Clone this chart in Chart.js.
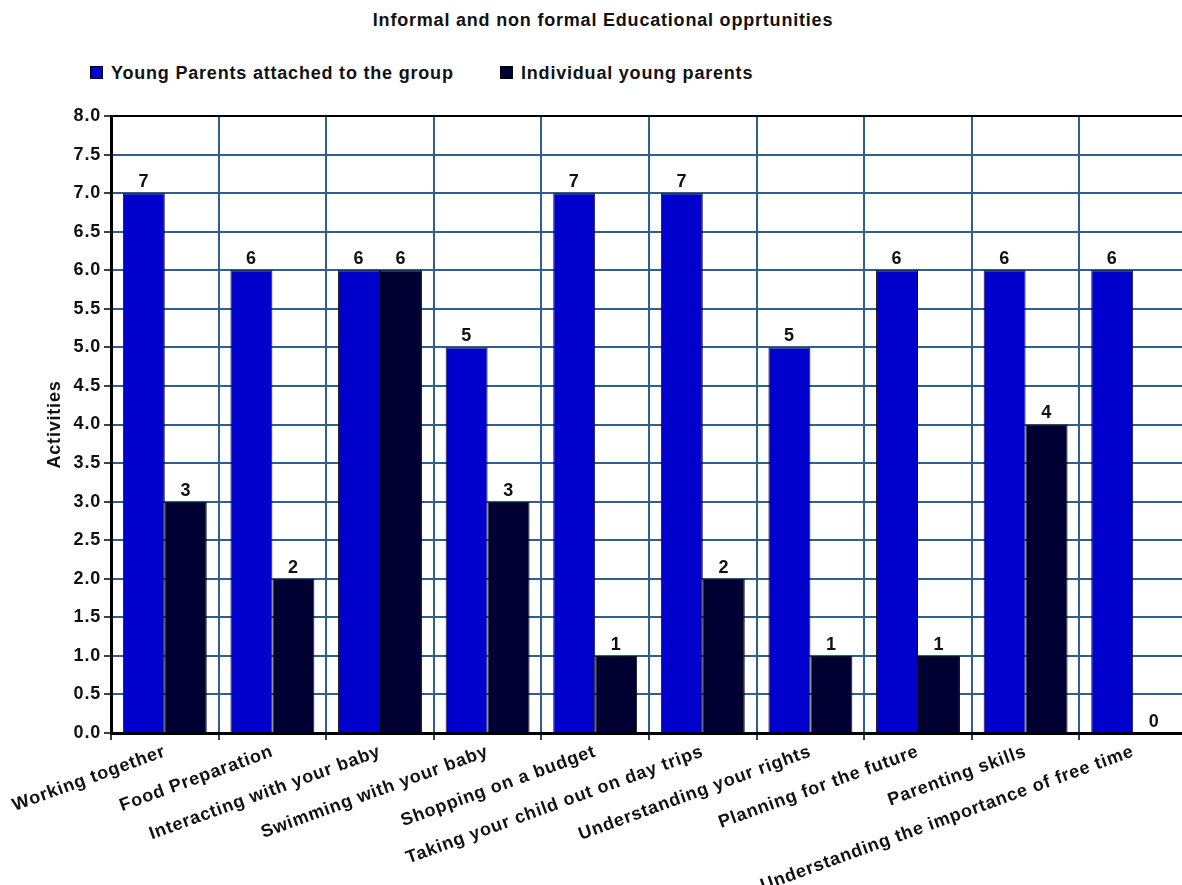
<!DOCTYPE html>
<html>
<head>
<meta charset="utf-8">
<title>Informal and non formal Educational opprtunities</title>
<script src="https://cdn.jsdelivr.net/npm/chart.js@4/dist/chart.umd.min.js"></script>
<style>
  html, body { margin: 0; padding: 0; background: #fff; overflow: hidden; }
  #wrap { position: relative; width: 1182px; height: 885px; overflow: hidden; font-family: "Liberation Sans", Arial, sans-serif; color: #111; letter-spacing: 0.8px; }
  #title { position: absolute; left: 24px; top: 10px; width: 1158px; text-align: center; font-weight: bold; font-size: 18px; }
  .leg { position: absolute; top: 63px; font-weight: bold; font-size: 18px; line-height: 20px; }
  .leg i { display: inline-block; width: 11px; height: 11px; border: 1px solid #000; margin-right: 8px; vertical-align: 0px; }
  #chartBox { position: absolute; left: 0; top: 0; width: 1200px; height: 885px; }
</style>
</head>
<body>
<div id="wrap">
  <div id="title">Informal and non formal Educational opprtunities</div>
  <div class="leg" style="left:90px"><i style="background:#0000cc"></i>Young Parents attached to the group</div>
  <div class="leg" style="left:500px"><i style="background:#000033"></i>Individual young parents</div>
  <div id="chartBox"><canvas id="chart" width="1200" height="885"></canvas></div>
</div>
<script>
const categories = [
  'Working together',
  'Food Preparation',
  'Interacting with your baby',
  'Swimming with your baby',
  'Shopping on a budget',
  'Taking your child out on day trips',
  'Understanding your rights',
  'Planning for the future',
  'Parenting skills',
  'Understanding the importance of free time'
]
const groupParents = [7, 6, 6, 5, 7, 7, 5, 6, 6, 6]
const individualParents = [3, 2, 6, 3, 1, 2, 1, 1, 4, 0]
const yTicks = ['0.0', '0.5', '1.0', '1.5', '2.0', '2.5', '3.0', '3.5', '4.0', '4.5', '5.0', '5.5', '6.0', '6.5', '7.0', '7.5', '8.0']

const FONT = '"Liberation Sans", Arial, sans-serif'
const GRID_BLUE = '#2f5f8f'

// slightly looser lettering for all canvas text
const spacing = {
  id: 'spacing',
  beforeUpdate(chart) { chart.ctx.letterSpacing = '0.8px' },
  beforeDraw(chart) { chart.ctx.letterSpacing = '0.8px' }
}

// value written above each bar
const barValues = {
  id: 'barValues',
  afterDatasetsDraw(chart) {
    const ctx = chart.ctx
    ctx.save()
    ctx.font = 'bold 18px ' + FONT
    ctx.fillStyle = '#111'
    ctx.textAlign = 'center'
    ctx.textBaseline = 'bottom'
    chart.data.datasets.forEach((ds, i) => {
      chart.getDatasetMeta(i).data.forEach((bar, j) => {
        ctx.fillText(String(ds.data[j]), bar.x, bar.y - 2)
      })
    })
    ctx.restore()
  }
}

const ctx = document.getElementById('chart').getContext('2d')
const chart = new Chart(ctx, {
  type: 'bar',
  data: {
    labels: categories,
    datasets: [{
      label: 'Young Parents attached to the group',
      data: groupParents,
      backgroundColor: '#0000cc',
      borderColor: '#111',
      borderWidth: 1,
      categoryPercentage: 0.78,
      barPercentage: 1.0
    }, {
      label: 'Individual young parents',
      data: individualParents,
      backgroundColor: '#000033',
      borderColor: '#111',
      borderWidth: 1,
      categoryPercentage: 0.78,
      barPercentage: 1.0
    }]
  },
  options: {
    responsive: false,
    animation: false,
    layout: { padding: { left: 0, right: 13, top: 116, bottom: 0 } },
    plugins: {
      legend: { display: false },
      title: { display: false },
      tooltip: { enabled: false }
    },
    scales: {
      x: {
        grid: {
          offset: true,
          color: GRID_BLUE,
          lineWidth: 2,
          tickColor: '#000',
          tickLength: 7,
          tickWidth: 1.5
        },
        border: { color: '#000', width: 3 },
        ticks: {
          minRotation: 20,
          maxRotation: 20,
          autoSkip: false,
          padding: 1,
          color: '#111',
          font: { family: FONT, size: 18, weight: 'bold' }
        },
        afterFit(scale) { scale.height = 885 - 733 }
      },
      y: {
        min: 0,
        max: 8,
        grid: {
          color: c => (c.tick && c.tick.value === 8 ? '#000' : GRID_BLUE),
          lineWidth: 2,
          tickColor: '#000',
          tickLength: 7,
          tickWidth: 1.5
        },
        border: { color: '#000', width: 3 },
        ticks: {
          stepSize: 0.5,
          padding: 3,
          color: '#111',
          font: { family: FONT, size: 18, weight: 'bold' },
          callback: (v, i) => yTicks[i]
        },
        title: {
          display: true,
          text: 'Activities',
          color: '#111',
          padding: { top: 44, bottom: 0 },
          font: { family: FONT, size: 18, weight: 'bold' }
        },
        afterFit(scale) { scale.width = 111 }
      }
    }
  },
  plugins: [spacing, barValues]
})
</script>
</body>
</html>
